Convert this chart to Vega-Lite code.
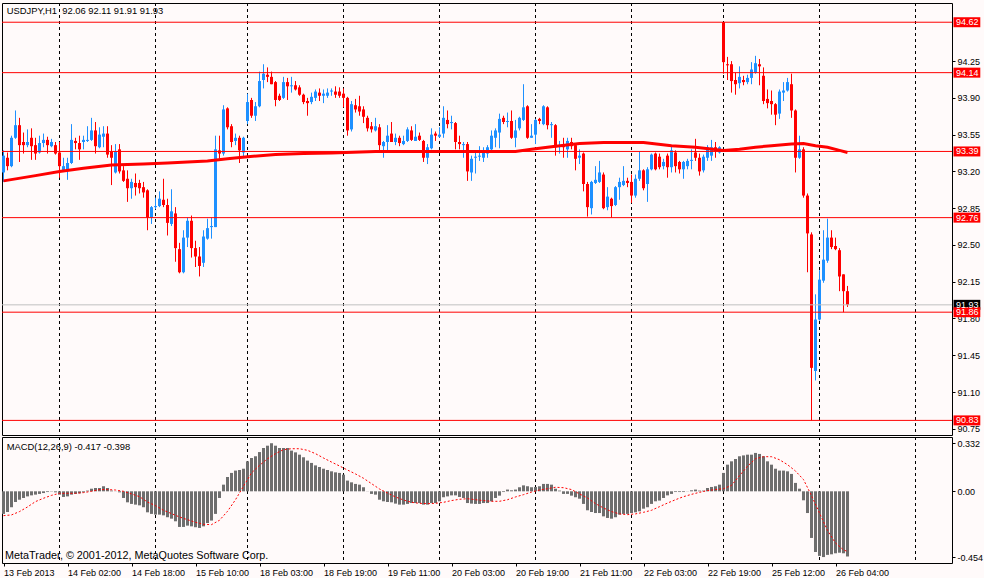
{
  "$schema": "https://vega.github.io/schema/vega-lite/v6.json",
  "autosize": {"type": "pad"},
  "padding": {"left": -3, "top": 2, "right": 0, "bottom": 0},
  "background": "#FFFAFA",
  "config": {
    "font": "Liberation Sans",
    "view": {"stroke": "#000000", "strokeWidth": 1, "fill": "#FFFAFA"},
    "scale": {"continuousPadding": 0},
    "axis": {"labelFont": "Liberation Sans", "labelFontSize": 9, "labelColor": "#000000", "tickColor": "#000000", "domain": false, "grid": false, "labelOverlap": false, "labelBound": false, "labelFlush": false}
  },
  "datasets": {
    "bars": [
      {"i":0,"o":93.19,"h":93.40,"l":93.10,"c":93.35},{"i":1,"o":93.33,"h":93.38,"l":93.21,"c":93.25},{"i":2,"o":93.25,"h":93.54,"l":93.24,"c":93.52},{"i":3,"o":93.52,"h":93.78,"l":93.51,"c":93.64},
      {"i":4,"o":93.64,"h":93.71,"l":93.29,"c":93.45},{"i":5,"o":93.48,"h":93.57,"l":93.37,"c":93.45},{"i":6,"o":93.45,"h":93.60,"l":93.43,"c":93.48},{"i":7,"o":93.52,"h":93.61,"l":93.31,"c":93.44},
      {"i":8,"o":93.45,"h":93.52,"l":93.31,"c":93.37},{"i":9,"o":93.38,"h":93.54,"l":93.37,"c":93.47},{"i":10,"o":93.47,"h":93.56,"l":93.43,"c":93.50},{"i":11,"o":93.50,"h":93.53,"l":93.37,"c":93.45},
      {"i":12,"o":93.44,"h":93.51,"l":93.43,"c":93.48},{"i":13,"o":93.45,"h":93.48,"l":93.36,"c":93.37},{"i":14,"o":93.38,"h":93.48,"l":93.14,"c":93.25},{"i":15,"o":93.21,"h":93.33,"l":93.20,"c":93.25},
      {"i":16,"o":93.22,"h":93.33,"l":93.12,"c":93.28},{"i":17,"o":93.28,"h":93.65,"l":93.27,"c":93.50},{"i":18,"o":93.49,"h":93.52,"l":93.41,"c":93.47},{"i":19,"o":93.47,"h":93.54,"l":93.31,"c":93.41},
      {"i":20,"o":93.48,"h":93.54,"l":93.41,"c":93.50},{"i":21,"o":93.49,"h":93.63,"l":93.48,"c":93.50},{"i":22,"o":93.50,"h":93.71,"l":93.49,"c":93.59},{"i":23,"o":93.59,"h":93.67,"l":93.37,"c":93.44},
      {"i":24,"o":93.43,"h":93.62,"l":93.42,"c":93.55},{"i":25,"o":93.53,"h":93.63,"l":93.43,"c":93.56},{"i":26,"o":93.56,"h":93.63,"l":93.33,"c":93.36},{"i":27,"o":93.39,"h":93.45,"l":93.07,"c":93.33},
      {"i":28,"o":93.19,"h":93.46,"l":93.18,"c":93.39},{"i":29,"o":93.41,"h":93.46,"l":93.18,"c":93.20},{"i":30,"o":93.21,"h":93.25,"l":93.10,"c":93.11},{"i":31,"o":93.13,"h":93.21,"l":92.91,"c":93.04},
      {"i":32,"o":93.04,"h":93.13,"l":92.94,"c":93.10},{"i":33,"o":93.09,"h":93.18,"l":92.97,"c":93.05},{"i":34,"o":93.09,"h":93.12,"l":92.99,"c":93.04},{"i":35,"o":93.05,"h":93.10,"l":92.95,"c":93.00},
      {"i":36,"o":93.02,"h":93.03,"l":92.64,"c":92.76},{"i":37,"o":92.76,"h":92.87,"l":92.70,"c":92.86},{"i":38,"o":92.86,"h":92.95,"l":92.84,"c":92.87},{"i":39,"o":92.87,"h":93.01,"l":92.86,"c":92.94},
      {"i":40,"o":92.93,"h":93.13,"l":92.86,"c":92.88},{"i":41,"o":92.88,"h":92.94,"l":92.59,"c":92.71},{"i":42,"o":92.70,"h":93.03,"l":92.68,"c":92.82},{"i":43,"o":92.80,"h":92.86,"l":92.34,"c":92.47},
      {"i":44,"o":92.46,"h":92.52,"l":92.23,"c":92.24},{"i":45,"o":92.24,"h":92.64,"l":92.23,"c":92.57},{"i":46,"o":92.57,"h":92.76,"l":92.48,"c":92.73},{"i":47,"o":92.73,"h":92.78,"l":92.38,"c":92.47},
      {"i":48,"o":92.47,"h":92.54,"l":92.29,"c":92.39},{"i":49,"o":92.39,"h":92.48,"l":92.20,"c":92.30},{"i":50,"o":92.33,"h":92.64,"l":92.29,"c":92.58},{"i":51,"o":92.56,"h":92.75,"l":92.55,"c":92.66},
      {"i":52,"o":92.67,"h":92.76,"l":92.56,"c":92.68},{"i":53,"o":92.67,"h":93.54,"l":92.67,"c":93.41},{"i":54,"o":93.40,"h":93.54,"l":93.32,"c":93.37},{"i":55,"o":93.37,"h":93.83,"l":93.35,"c":93.79},
      {"i":56,"o":93.80,"h":93.81,"l":93.60,"c":93.62},{"i":57,"o":93.63,"h":93.65,"l":93.43,"c":93.48},{"i":58,"o":93.49,"h":93.56,"l":93.45,"c":93.52},{"i":59,"o":93.52,"h":93.54,"l":93.28,"c":93.40},
      {"i":60,"o":93.38,"h":93.53,"l":93.33,"c":93.52},{"i":61,"o":93.68,"h":93.94,"l":93.65,"c":93.86},{"i":62,"o":93.88,"h":93.90,"l":93.71,"c":93.73},{"i":63,"o":93.73,"h":93.86,"l":93.68,"c":93.82},
      {"i":64,"o":93.82,"h":94.15,"l":93.81,"c":94.06},{"i":65,"o":94.07,"h":94.22,"l":93.99,"c":94.13},{"i":66,"o":94.12,"h":94.19,"l":94.05,"c":94.10},{"i":67,"o":94.10,"h":94.15,"l":94.03,"c":94.03},
      {"i":68,"o":94.05,"h":94.06,"l":93.82,"c":93.88},{"i":69,"o":93.92,"h":93.94,"l":93.87,"c":93.88},{"i":70,"o":93.90,"h":94.10,"l":93.89,"c":94.05},{"i":71,"o":94.05,"h":94.09,"l":93.88,"c":94.01},
      {"i":72,"o":94.01,"h":94.10,"l":93.95,"c":94.02},{"i":73,"o":94.02,"h":94.06,"l":93.97,"c":93.98},{"i":74,"o":94.00,"h":94.02,"l":93.92,"c":93.93},{"i":75,"o":93.93,"h":93.94,"l":93.84,"c":93.86},
      {"i":76,"o":93.87,"h":93.90,"l":93.73,"c":93.85},{"i":77,"o":93.86,"h":93.95,"l":93.84,"c":93.91},{"i":78,"o":93.90,"h":93.98,"l":93.87,"c":93.96},{"i":79,"o":93.95,"h":93.99,"l":93.87,"c":93.92},
      {"i":80,"o":93.92,"h":93.98,"l":93.85,"c":93.94},{"i":81,"o":93.92,"h":93.99,"l":93.90,"c":93.95},{"i":82,"o":93.96,"h":93.99,"l":93.92,"c":93.97},{"i":83,"o":93.96,"h":94.01,"l":93.90,"c":93.93},
      {"i":84,"o":93.96,"h":94.00,"l":93.90,"c":93.92},{"i":85,"o":93.94,"h":93.99,"l":93.81,"c":93.90},{"i":86,"o":93.90,"h":93.91,"l":93.54,"c":93.59},{"i":87,"o":93.60,"h":93.87,"l":93.58,"c":93.84},
      {"i":88,"o":93.83,"h":93.89,"l":93.76,"c":93.79},{"i":89,"o":93.82,"h":93.92,"l":93.73,"c":93.77},{"i":90,"o":93.79,"h":93.82,"l":93.66,"c":93.72},{"i":91,"o":93.71,"h":93.73,"l":93.58,"c":93.61},
      {"i":92,"o":93.63,"h":93.67,"l":93.57,"c":93.60},{"i":93,"o":93.59,"h":93.71,"l":93.58,"c":93.63},{"i":94,"o":93.62,"h":93.65,"l":93.38,"c":93.45},{"i":95,"o":93.44,"h":93.49,"l":93.33,"c":93.48},
      {"i":96,"o":93.48,"h":93.64,"l":93.38,"c":93.54},{"i":97,"o":93.56,"h":93.67,"l":93.48,"c":93.48},{"i":98,"o":93.48,"h":93.56,"l":93.45,"c":93.52},{"i":99,"o":93.52,"h":93.54,"l":93.44,"c":93.47},
      {"i":100,"o":93.46,"h":93.54,"l":93.45,"c":93.49},{"i":101,"o":93.49,"h":93.62,"l":93.48,"c":93.60},{"i":102,"o":93.59,"h":93.63,"l":93.49,"c":93.50},{"i":103,"o":93.49,"h":93.65,"l":93.49,"c":93.53},
      {"i":104,"o":93.54,"h":93.57,"l":93.49,"c":93.50},{"i":105,"o":93.49,"h":93.50,"l":93.29,"c":93.33},{"i":106,"o":93.33,"h":93.46,"l":93.27,"c":93.43},{"i":107,"o":93.42,"h":93.61,"l":93.41,"c":93.55},
      {"i":108,"o":93.56,"h":93.58,"l":93.49,"c":93.54},{"i":109,"o":93.53,"h":93.62,"l":93.52,"c":93.55},{"i":110,"o":93.56,"h":93.82,"l":93.52,"c":93.71},{"i":111,"o":93.69,"h":93.78,"l":93.61,"c":93.65},
      {"i":112,"o":93.66,"h":93.73,"l":93.60,"c":93.67},{"i":113,"o":93.66,"h":93.67,"l":93.41,"c":93.48},{"i":114,"o":93.48,"h":93.54,"l":93.41,"c":93.46},{"i":115,"o":93.45,"h":93.48,"l":93.33,"c":93.46},
      {"i":116,"o":93.46,"h":93.48,"l":93.11,"c":93.20},{"i":117,"o":93.19,"h":93.35,"l":93.11,"c":93.32},{"i":118,"o":93.33,"h":93.40,"l":93.18,"c":93.34},{"i":119,"o":93.34,"h":93.44,"l":93.30,"c":93.35},
      {"i":120,"o":93.33,"h":93.43,"l":93.29,"c":93.38},{"i":121,"o":93.37,"h":93.45,"l":93.33,"c":93.43},{"i":122,"o":93.41,"h":93.59,"l":93.40,"c":93.54},{"i":123,"o":93.52,"h":93.61,"l":93.43,"c":93.59},
      {"i":124,"o":93.57,"h":93.75,"l":93.42,"c":93.70},{"i":125,"o":93.71,"h":93.73,"l":93.65,"c":93.67},{"i":126,"o":93.67,"h":93.76,"l":93.62,"c":93.68},{"i":127,"o":93.68,"h":93.78,"l":93.51,"c":93.52},
      {"i":128,"o":93.52,"h":93.69,"l":93.43,"c":93.59},{"i":129,"o":93.61,"h":93.72,"l":93.59,"c":93.71},{"i":130,"o":93.69,"h":94.03,"l":93.68,"c":93.81},{"i":131,"o":93.82,"h":93.83,"l":93.51,"c":93.52},
      {"i":132,"o":93.52,"h":93.65,"l":93.52,"c":93.54},{"i":133,"o":93.55,"h":93.70,"l":93.46,"c":93.69},{"i":134,"o":93.70,"h":93.71,"l":93.65,"c":93.68},{"i":135,"o":93.65,"h":93.83,"l":93.64,"c":93.82},
      {"i":136,"o":93.81,"h":93.82,"l":93.60,"c":93.64},{"i":137,"o":93.64,"h":93.67,"l":93.52,"c":93.65},{"i":138,"o":93.64,"h":93.65,"l":93.35,"c":93.43},{"i":139,"o":93.44,"h":93.49,"l":93.37,"c":93.45},
      {"i":140,"o":93.46,"h":93.52,"l":93.33,"c":93.43},{"i":141,"o":93.41,"h":93.52,"l":93.33,"c":93.49},{"i":142,"o":93.48,"h":93.52,"l":93.41,"c":93.44},{"i":143,"o":93.45,"h":93.47,"l":93.21,"c":93.32},
      {"i":144,"o":93.33,"h":93.41,"l":93.27,"c":93.35},{"i":145,"o":93.37,"h":93.38,"l":93.01,"c":93.08},{"i":146,"o":93.08,"h":93.10,"l":92.77,"c":92.86},{"i":147,"o":92.85,"h":93.11,"l":92.79,"c":93.10},
      {"i":148,"o":93.09,"h":93.25,"l":93.08,"c":93.12},{"i":149,"o":93.10,"h":93.30,"l":93.09,"c":93.19},{"i":150,"o":93.17,"h":93.19,"l":92.84,"c":92.85},{"i":151,"o":92.86,"h":93.05,"l":92.83,"c":92.96},
      {"i":152,"o":92.94,"h":92.95,"l":92.76,"c":92.87},{"i":153,"o":92.88,"h":93.06,"l":92.87,"c":93.05},{"i":154,"o":93.05,"h":93.14,"l":92.93,"c":93.10},{"i":155,"o":93.07,"h":93.25,"l":93.06,"c":93.11},
      {"i":156,"o":93.11,"h":93.14,"l":93.05,"c":93.09},{"i":157,"o":93.10,"h":93.17,"l":92.90,"c":92.97},{"i":158,"o":92.97,"h":93.17,"l":92.95,"c":93.13},{"i":159,"o":93.13,"h":93.39,"l":93.11,"c":93.21},
      {"i":160,"o":93.21,"h":93.22,"l":93.02,"c":93.04},{"i":161,"o":93.08,"h":93.24,"l":92.91,"c":93.22},{"i":162,"o":93.22,"h":93.37,"l":93.21,"c":93.36},{"i":163,"o":93.37,"h":93.38,"l":93.21,"c":93.22},
      {"i":164,"o":93.34,"h":93.37,"l":93.22,"c":93.24},{"i":165,"o":93.25,"h":93.32,"l":93.22,"c":93.29},{"i":166,"o":93.35,"h":93.37,"l":93.14,"c":93.24},{"i":167,"o":93.24,"h":93.45,"l":93.19,"c":93.40},
      {"i":168,"o":93.38,"h":93.40,"l":93.19,"c":93.25},{"i":169,"o":93.29,"h":93.30,"l":93.18,"c":93.22},{"i":170,"o":93.22,"h":93.30,"l":93.13,"c":93.29},{"i":171,"o":93.25,"h":93.32,"l":93.22,"c":93.30},
      {"i":172,"o":93.30,"h":93.41,"l":93.22,"c":93.31},{"i":173,"o":93.38,"h":93.51,"l":93.30,"c":93.33},{"i":174,"o":93.33,"h":93.37,"l":93.16,"c":93.20},{"i":175,"o":93.21,"h":93.36,"l":93.19,"c":93.34},
      {"i":176,"o":93.33,"h":93.45,"l":93.30,"c":93.43},{"i":177,"o":93.35,"h":93.50,"l":93.30,"c":93.43},{"i":178,"o":93.43,"h":93.48,"l":93.33,"c":93.41},{"i":179,"o":93.38,"h":93.44,"l":93.37,"c":93.43},
      {"i":180,"o":94.62,"h":94.62,"l":94.13,"c":94.24},{"i":181,"o":94.22,"h":94.29,"l":94.07,"c":94.21},{"i":182,"o":94.22,"h":94.25,"l":93.95,"c":94.06},{"i":183,"o":94.07,"h":94.14,"l":93.93,"c":94.03},
      {"i":184,"o":94.04,"h":94.20,"l":93.99,"c":94.10},{"i":185,"o":94.07,"h":94.11,"l":94.02,"c":94.05},{"i":186,"o":94.05,"h":94.12,"l":94.03,"c":94.09},{"i":187,"o":94.09,"h":94.24,"l":94.03,"c":94.17},
      {"i":188,"o":94.14,"h":94.30,"l":94.13,"c":94.23},{"i":189,"o":94.22,"h":94.27,"l":94.02,"c":94.20},{"i":190,"o":94.11,"h":94.19,"l":93.84,"c":93.87},{"i":191,"o":93.89,"h":93.98,"l":93.80,"c":93.85},
      {"i":192,"o":93.87,"h":93.97,"l":93.74,"c":93.84},{"i":193,"o":93.84,"h":93.85,"l":93.64,"c":93.74},{"i":194,"o":93.75,"h":93.98,"l":93.70,"c":93.96},{"i":195,"o":93.95,"h":94.05,"l":93.87,"c":93.97},
      {"i":196,"o":93.97,"h":94.09,"l":93.96,"c":94.05},{"i":197,"o":94.03,"h":94.13,"l":93.71,"c":93.78},{"i":198,"o":93.78,"h":93.79,"l":93.19,"c":93.33},{"i":199,"o":93.33,"h":93.54,"l":93.32,"c":93.41},
      {"i":200,"o":93.41,"h":93.43,"l":92.95,"c":92.97},{"i":201,"o":92.97,"h":92.99,"l":92.24,"c":92.61},{"i":202,"o":92.60,"h":92.62,"l":90.83,"c":91.33},{"i":203,"o":91.30,"h":92.03,"l":91.21,"c":91.79},
      {"i":204,"o":91.79,"h":92.26,"l":91.78,"c":92.17},{"i":205,"o":92.16,"h":92.64,"l":92.14,"c":92.36},{"i":206,"o":92.35,"h":92.75,"l":92.33,"c":92.57},{"i":207,"o":92.57,"h":92.64,"l":92.46,"c":92.48},
      {"i":208,"o":92.49,"h":92.57,"l":92.45,"c":92.46},{"i":209,"o":92.45,"h":92.47,"l":92.06,"c":92.20},{"i":210,"o":92.22,"h":92.22,"l":91.86,"c":92.06},{"i":211,"o":92.06,"h":92.11,"l":91.91,"c":91.93}
    ],
    "ma": [
      {"i":0,"v":93.11},{"i":8,"v":93.16},{"i":14,"v":93.20},{"i":20,"v":93.23},{"i":27,"v":93.26},{"i":35,"v":93.27},{"i":41,"v":93.28},
      {"i":51,"v":93.30},{"i":56,"v":93.32},{"i":61,"v":93.34},{"i":68,"v":93.36},{"i":75,"v":93.37},{"i":82,"v":93.375},{"i":93,"v":93.39},
      {"i":105,"v":93.39},{"i":120,"v":93.39},{"i":128,"v":93.39},{"i":132,"v":93.41},{"i":137,"v":93.435},{"i":144,"v":93.465},{"i":150,"v":93.475},
      {"i":160,"v":93.475},{"i":167,"v":93.445},{"i":173,"v":93.43},{"i":180,"v":93.40},{"i":184,"v":93.41},{"i":188,"v":93.43},{"i":192,"v":93.445},
      {"i":197,"v":93.46},{"i":200,"v":93.465},{"i":203,"v":93.445},{"i":206,"v":93.43},{"i":209,"v":93.40},{"i":211,"v":93.38}
    ],
    "macd": [
      {"i":0,"m":-0.156},{"i":1,"m":-0.143},{"i":2,"m":-0.110},{"i":3,"m":-0.074},{"i":4,"m":-0.058},{"i":5,"m":-0.046},{"i":6,"m":-0.035},{"i":7,"m":-0.028},
      {"i":8,"m":-0.023},{"i":9,"m":-0.018},{"i":10,"m":-0.012},{"i":11,"m":-0.005},{"i":12,"m":-0.002},{"i":13,"m":-0.007},{"i":14,"m":-0.023},{"i":15,"m":-0.039},
      {"i":16,"m":-0.035},{"i":17,"m":-0.023},{"i":18,"m":-0.018},{"i":19,"m":-0.014},{"i":20,"m":-0.007},{"i":21,"m":0.005},{"i":22,"m":0.018},{"i":23,"m":0.023},
      {"i":24,"m":0.023},{"i":25,"m":0.035},{"i":26,"m":0.023},{"i":27,"m":0.005},{"i":28,"m":-0.001},{"i":29,"m":-0.007},{"i":30,"m":-0.046},{"i":31,"m":-0.076},
      {"i":32,"m":-0.087},{"i":33,"m":-0.092},{"i":34,"m":-0.097},{"i":35,"m":-0.110},{"i":36,"m":-0.145},{"i":37,"m":-0.156},{"i":38,"m":-0.161},{"i":39,"m":-0.161},
      {"i":40,"m":-0.166},{"i":41,"m":-0.179},{"i":42,"m":-0.189},{"i":43,"m":-0.207},{"i":44,"m":-0.246},{"i":45,"m":-0.246},{"i":46,"m":-0.237},{"i":47,"m":-0.242},
      {"i":48,"m":-0.248},{"i":49,"m":-0.253},{"i":50,"m":-0.242},{"i":51,"m":-0.219},{"i":52,"m":-0.202},{"i":53,"m":-0.156},{"i":54,"m":-0.046},{"i":55,"m":0.046},
      {"i":56,"m":0.099},{"i":57,"m":0.127},{"i":58,"m":0.143},{"i":59,"m":0.147},{"i":60,"m":0.156},{"i":61,"m":0.207},{"i":62,"m":0.230},{"i":63,"m":0.242},
      {"i":64,"m":0.271},{"i":65,"m":0.299},{"i":66,"m":0.315},{"i":67,"m":0.332},{"i":68,"m":0.315},{"i":69,"m":0.299},{"i":70,"m":0.299},{"i":71,"m":0.299},
      {"i":72,"m":0.281},{"i":73,"m":0.269},{"i":74,"m":0.253},{"i":75,"m":0.235},{"i":76,"m":0.212},{"i":77,"m":0.196},{"i":78,"m":0.179},{"i":79,"m":0.168},
      {"i":80,"m":0.156},{"i":81,"m":0.147},{"i":82,"m":0.138},{"i":83,"m":0.131},{"i":84,"m":0.127},{"i":85,"m":0.115},{"i":86,"m":0.074},{"i":87,"m":0.062},
      {"i":88,"m":0.051},{"i":89,"m":0.046},{"i":90,"m":0.028},{"i":91,"m":-0.001},{"i":92,"m":-0.018},{"i":93,"m":-0.023},{"i":94,"m":-0.058},{"i":95,"m":-0.069},
      {"i":96,"m":-0.074},{"i":97,"m":-0.076},{"i":98,"m":-0.085},{"i":99,"m":-0.092},{"i":100,"m":-0.092},{"i":101,"m":-0.087},{"i":102,"m":-0.081},{"i":103,"m":-0.081},
      {"i":104,"m":-0.081},{"i":105,"m":-0.092},{"i":106,"m":-0.092},{"i":107,"m":-0.081},{"i":108,"m":-0.081},{"i":109,"m":-0.069},{"i":110,"m":-0.041},{"i":111,"m":-0.035},
      {"i":112,"m":-0.028},{"i":113,"m":-0.028},{"i":114,"m":-0.039},{"i":115,"m":-0.046},{"i":116,"m":-0.081},{"i":117,"m":-0.085},{"i":118,"m":-0.087},{"i":119,"m":-0.087},
      {"i":120,"m":-0.081},{"i":121,"m":-0.081},{"i":122,"m":-0.069},{"i":123,"m":-0.046},{"i":124,"m":-0.030},{"i":125,"m":-0.005},{"i":126,"m":0.012},{"i":127,"m":0.007},
      {"i":128,"m":0.012},{"i":129,"m":0.028},{"i":130,"m":0.041},{"i":131,"m":0.035},{"i":132,"m":0.028},{"i":133,"m":0.030},{"i":134,"m":0.035},{"i":135,"m":0.051},
      {"i":136,"m":0.051},{"i":137,"m":0.046},{"i":138,"m":0.018},{"i":139,"m":0.005},{"i":140,"m":-0.018},{"i":141,"m":-0.018},{"i":142,"m":-0.030},{"i":143,"m":-0.041},
      {"i":144,"m":-0.051},{"i":145,"m":-0.087},{"i":146,"m":-0.131},{"i":147,"m":-0.143},{"i":148,"m":-0.150},{"i":149,"m":-0.150},{"i":150,"m":-0.173},{"i":151,"m":-0.184},
      {"i":152,"m":-0.189},{"i":153,"m":-0.179},{"i":154,"m":-0.161},{"i":155,"m":-0.156},{"i":156,"m":-0.156},{"i":157,"m":-0.150},{"i":158,"m":-0.145},{"i":159,"m":-0.138},
      {"i":160,"m":-0.120},{"i":161,"m":-0.110},{"i":162,"m":-0.087},{"i":163,"m":-0.069},{"i":164,"m":-0.064},{"i":165,"m":-0.046},{"i":166,"m":-0.028},{"i":167,"m":-0.018},
      {"i":168,"m":-0.005},{"i":169,"m":-0.005},{"i":170,"m":-0.005},{"i":171,"m":-0.001},{"i":172,"m":0.007},{"i":173,"m":0.012},{"i":174,"m":0.005},{"i":175,"m":0.005},
      {"i":176,"m":0.023},{"i":177,"m":0.030},{"i":178,"m":0.035},{"i":179,"m":0.046},{"i":180,"m":0.127},{"i":181,"m":0.184},{"i":182,"m":0.207},{"i":183,"m":0.223},
      {"i":184,"m":0.242},{"i":185,"m":0.248},{"i":186,"m":0.253},{"i":187,"m":0.253},{"i":188,"m":0.265},{"i":189,"m":0.258},{"i":190,"m":0.242},{"i":191,"m":0.207},
      {"i":192,"m":0.184},{"i":193,"m":0.156},{"i":194,"m":0.143},{"i":195,"m":0.143},{"i":196,"m":0.138},{"i":197,"m":0.120},{"i":198,"m":0.058},{"i":199,"m":0.018},
      {"i":200,"m":-0.062},{"i":201,"m":-0.150},{"i":202,"m":-0.322},{"i":203,"m":-0.419},{"i":204,"m":-0.446},{"i":205,"m":-0.454},{"i":206,"m":-0.439},{"i":207,"m":-0.435},
      {"i":208,"m":-0.428},{"i":209,"m":-0.424},{"i":210,"m":-0.428},{"i":211,"m":-0.450}
    ],
    "signal": [
      {"i":0,"s":-0.168},{"i":2,"s":-0.163},{"i":4,"s":-0.140},{"i":6,"s":-0.108},{"i":8,"s":-0.071},{"i":10,"s":-0.048},{"i":12,"s":-0.028},{"i":14,"s":-0.014},
      {"i":16,"s":-0.014},{"i":18,"s":-0.014},{"i":20,"s":-0.009},{"i":22,"s":0.000},{"i":24,"s":0.012},{"i":26,"s":0.012},{"i":28,"s":0.009},{"i":30,"s":0.000},
      {"i":32,"s":-0.018},{"i":34,"s":-0.037},{"i":36,"s":-0.074},{"i":38,"s":-0.099},{"i":40,"s":-0.131},{"i":42,"s":-0.154},{"i":44,"s":-0.177},{"i":46,"s":-0.196},
      {"i":48,"s":-0.214},{"i":50,"s":-0.228},{"i":52,"s":-0.230},{"i":54,"s":-0.200},{"i":56,"s":-0.138},{"i":58,"s":-0.058},{"i":60,"s":0.035},{"i":62,"s":0.127},
      {"i":64,"s":0.179},{"i":66,"s":0.225},{"i":68,"s":0.260},{"i":70,"s":0.288},{"i":72,"s":0.294},{"i":74,"s":0.294},{"i":76,"s":0.283},{"i":78,"s":0.260},
      {"i":80,"s":0.230},{"i":82,"s":0.202},{"i":84,"s":0.175},{"i":86,"s":0.147},{"i":88,"s":0.120},{"i":90,"s":0.090},{"i":92,"s":0.053},{"i":94,"s":0.016},
      {"i":96,"s":-0.012},{"i":98,"s":-0.039},{"i":100,"s":-0.060},{"i":102,"s":-0.076},{"i":104,"s":-0.083},{"i":106,"s":-0.085},{"i":108,"s":-0.083},{"i":110,"s":-0.076},
      {"i":112,"s":-0.064},{"i":114,"s":-0.055},{"i":116,"s":-0.051},{"i":118,"s":-0.058},{"i":120,"s":-0.064},{"i":122,"s":-0.069},{"i":124,"s":-0.069},{"i":126,"s":-0.058},
      {"i":128,"s":-0.039},{"i":130,"s":-0.023},{"i":132,"s":-0.005},{"i":134,"s":0.009},{"i":136,"s":0.018},{"i":138,"s":0.028},{"i":140,"s":0.025},{"i":142,"s":0.012},
      {"i":144,"s":-0.018},{"i":146,"s":-0.046},{"i":148,"s":-0.085},{"i":150,"s":-0.115},{"i":152,"s":-0.140},{"i":154,"s":-0.156},{"i":156,"s":-0.161},{"i":158,"s":-0.156},
      {"i":160,"s":-0.145},{"i":162,"s":-0.131},{"i":164,"s":-0.106},{"i":166,"s":-0.081},{"i":168,"s":-0.058},{"i":170,"s":-0.037},{"i":172,"s":-0.021},{"i":174,"s":-0.007},
      {"i":176,"s":0.005},{"i":178,"s":0.012},{"i":180,"s":0.018},{"i":182,"s":0.041},{"i":184,"s":0.108},{"i":186,"s":0.173},{"i":188,"s":0.225},{"i":190,"s":0.239},
      {"i":192,"s":0.239},{"i":194,"s":0.218},{"i":196,"s":0.184},{"i":198,"s":0.140},{"i":200,"s":0.081},{"i":202,"s":-0.030},{"i":204,"s":-0.150},{"i":206,"s":-0.270},
      {"i":208,"s":-0.357},{"i":210,"s":-0.405},{"i":211,"s":-0.415}
    ],
    "days": [{"i":14},{"i":38},{"i":61},{"i":85},{"i":109},{"i":133},{"i":157},{"i":180},{"i":204},{"i":228}],
    "levels": [
      {"v":91.93,"k":"bid"},{"v":94.62,"k":"line"},{"v":94.14,"k":"line"},{"v":93.39,"k":"line"},
      {"v":92.76,"k":"line"},{"v":91.86,"k":"line"},{"v":90.83,"k":"line"}
    ]
  },
  "spacing": 2,
  "bounds": "flush",
  "vconcat": [
    {
      "width": 950,
      "height": 432,
      "layer": [
        {
          "data": {"name": "days"},
          "mark": {"type": "rule", "color": "#000000", "strokeWidth": 1, "strokeDash": [3, 3]},
          "encoding": {
            "x": {"field": "i", "type": "quantitative", "scale": {"domain": [-0.375, 237.125], "nice": false, "zero": false, "padding": 0}, "axis": null}
          }
        },
        {
          "data": {"name": "bars"},
          "mark": {"type": "rule", "strokeWidth": 1},
          "encoding": {
            "x": {"field": "i", "type": "quantitative", "axis": null},
            "y": {"field": "l", "type": "quantitative", "scale": {"domain": [90.691, 94.803], "nice": false, "zero": false, "padding": 0},
              "axis": {"orient": "right", "title": null, "values": [94.25, 93.9, 93.55, 93.2, 92.85, 92.5, 92.15, 91.8, 91.45, 91.1, 90.75], "format": ".2f", "tickSize": 3, "labelPadding": 2}},
            "y2": {"field": "h"},
            "color": {"condition": {"test": "datum.c >= datum.o", "value": "#1E90FF"}, "value": "#FF0000"}
          }
        },
        {
          "data": {"name": "bars"},
          "mark": {"type": "bar", "size": 3},
          "encoding": {
            "x": {"field": "i", "type": "quantitative", "axis": null},
            "y": {"field": "o", "type": "quantitative",
              "axis": {"orient": "right", "title": null, "values": [94.25, 93.9, 93.55, 93.2, 92.85, 92.5, 92.15, 91.8, 91.45, 91.1, 90.75], "format": ".2f", "tickSize": 3, "labelPadding": 2}},
            "y2": {"field": "c"},
            "color": {"condition": {"test": "datum.c >= datum.o", "value": "#1E90FF"}, "value": "#FF0000"}
          }
        },
        {
          "data": {"name": "ma"},
          "mark": {"type": "line", "color": "#FF0000", "strokeWidth": 3},
          "encoding": {
            "x": {"field": "i", "type": "quantitative", "axis": null},
            "y": {"field": "v", "type": "quantitative",
              "axis": {"orient": "right", "title": null, "values": [94.25, 93.9, 93.55, 93.2, 92.85, 92.5, 92.15, 91.8, 91.45, 91.1, 90.75], "format": ".2f", "tickSize": 3, "labelPadding": 2}}
          }
        },
        {
          "data": {"name": "levels"},
          "mark": {"type": "rule", "strokeWidth": 1},
          "encoding": {
            "y": {"field": "v", "type": "quantitative",
              "axis": {"orient": "right", "title": null, "values": [94.25, 93.9, 93.55, 93.2, 92.85, 92.5, 92.15, 91.8, 91.45, 91.1, 90.75], "format": ".2f", "tickSize": 3, "labelPadding": 2}},
            "color": {"condition": {"test": "datum.k == 'bid'", "value": "#C0C0C0"}, "value": "#FF0000"}
          }
        },
        {
          "data": {"name": "levels"},
          "mark": {"type": "bar", "size": 10},
          "encoding": {
            "x": {"datum": 237.5, "type": "quantitative", "axis": null},
            "x2": {"datum": 244.2},
            "y": {"field": "v", "type": "quantitative",
              "axis": {"orient": "right", "title": null, "values": [94.25, 93.9, 93.55, 93.2, 92.85, 92.5, 92.15, 91.8, 91.45, 91.1, 90.75], "format": ".2f", "tickSize": 3, "labelPadding": 2}},
            "color": {"condition": {"test": "datum.k == 'bid'", "value": "#000000"}, "value": "#FF0000"}
          }
        },
        {
          "data": {"name": "levels"},
          "mark": {"type": "text", "align": "left", "baseline": "middle", "color": "#FFFFFF", "fontSize": 9, "font": "Liberation Sans"},
          "encoding": {
            "x": {"datum": 238.1, "type": "quantitative", "axis": null},
            "y": {"field": "v", "type": "quantitative",
              "axis": {"orient": "right", "title": null, "values": [94.25, 93.9, 93.55, 93.2, 92.85, 92.5, 92.15, 91.8, 91.45, 91.1, 90.75], "format": ".2f", "tickSize": 3, "labelPadding": 2}},
            "text": {"field": "v", "type": "quantitative", "format": ".2f"}
          }
        },
        {
          "data": {"values": [{"t": "USDJPY,H1\u00a0 92.06 92.11 91.91 91.93"}]},
          "mark": {"type": "text", "align": "left", "baseline": "middle", "color": "#000000", "fontSize": 9.4, "font": "Liberation Sans"},
          "encoding": {
            "x": {"datum": 0.8, "type": "quantitative", "axis": null},
            "y": {"datum": 94.725, "type": "quantitative",
              "axis": {"orient": "right", "title": null, "values": [94.25, 93.9, 93.55, 93.2, 92.85, 92.5, 92.15, 91.8, 91.45, 91.1, 90.75], "format": ".2f", "tickSize": 3, "labelPadding": 2}},
            "text": {"field": "t"}
          }
        }
      ]
    },
    {
      "width": 950,
      "height": 126,
      "layer": [
        {
          "data": {"name": "days"},
          "mark": {"type": "rule", "color": "#000000", "strokeWidth": 1, "strokeDash": [3, 3]},
          "encoding": {
            "x": {"field": "i", "type": "quantitative", "scale": {"domain": [-0.375, 237.125], "nice": false, "zero": false, "padding": 0},
              "axis": {"orient": "bottom", "title": null, "values": [0, 16, 32, 48, 64, 80, 96, 112, 128, 144, 160, 176, 192, 208],
                "labelExpr": "['13 Feb 2013','14 Feb 02:00','14 Feb 18:00','15 Feb 10:00','18 Feb 03:00','18 Feb 19:00','19 Feb 11:00','20 Feb 03:00','20 Feb 19:00','21 Feb 11:00','22 Feb 03:00','22 Feb 19:00','25 Feb 12:00','26 Feb 04:00'][round(datum.value / 16)]",
                "labelAlign": "left", "labelBaseline": "top", "tickSize": 3, "labelPadding": 2}}
          }
        },
        {
          "data": {"name": "macd"},
          "mark": {"type": "bar", "size": 3, "color": "#6E6E6E"},
          "encoding": {
            "x": {"field": "i", "type": "quantitative",
              "axis": {"orient": "bottom", "title": null, "values": [0, 16, 32, 48, 64, 80, 96, 112, 128, 144, 160, 176, 192, 208],
                "labelExpr": "['13 Feb 2013','14 Feb 02:00','14 Feb 18:00','15 Feb 10:00','18 Feb 03:00','18 Feb 19:00','19 Feb 11:00','20 Feb 03:00','20 Feb 19:00','21 Feb 11:00','22 Feb 03:00','22 Feb 19:00','25 Feb 12:00','26 Feb 04:00'][round(datum.value / 16)]",
                "labelAlign": "left", "labelBaseline": "top", "tickSize": 3, "labelPadding": 2}},
            "y": {"field": "m", "type": "quantitative", "scale": {"domain": [-0.495, 0.375], "nice": false, "zero": false, "padding": 0},
              "axis": {"orient": "right", "title": null, "values": [0.332, 0, -0.454], "labelExpr": "datum.value > 0.1 ? '0.332' : (datum.value < -0.1 ? '-0.454' : '0.00')", "tickSize": 3, "labelPadding": 2}},
            "y2": {"datum": 0}
          }
        },
        {
          "data": {"name": "signal"},
          "mark": {"type": "line", "color": "#FF0000", "strokeWidth": 1, "strokeDash": [2, 2]},
          "encoding": {
            "x": {"field": "i", "type": "quantitative",
              "axis": {"orient": "bottom", "title": null, "values": [0, 16, 32, 48, 64, 80, 96, 112, 128, 144, 160, 176, 192, 208],
                "labelExpr": "['13 Feb 2013','14 Feb 02:00','14 Feb 18:00','15 Feb 10:00','18 Feb 03:00','18 Feb 19:00','19 Feb 11:00','20 Feb 03:00','20 Feb 19:00','21 Feb 11:00','22 Feb 03:00','22 Feb 19:00','25 Feb 12:00','26 Feb 04:00'][round(datum.value / 16)]",
                "labelAlign": "left", "labelBaseline": "top", "tickSize": 3, "labelPadding": 2}},
            "y": {"field": "s", "type": "quantitative",
              "axis": {"orient": "right", "title": null, "values": [0.332, 0, -0.454], "labelExpr": "datum.value > 0.1 ? '0.332' : (datum.value < -0.1 ? '-0.454' : '0.00')", "tickSize": 3, "labelPadding": 2}}
          }
        },
        {
          "data": {"values": [{"t": "MACD(12,26,9) -0.417 -0.398", "u": "MetaTrader, © 2001-2012, MetaQuotes Software Corp."}]},
          "layer": [
            {
              "mark": {"type": "text", "align": "left", "baseline": "middle", "color": "#000000", "fontSize": 9.4, "font": "Liberation Sans"},
              "encoding": {
                "x": {"datum": 0.8, "type": "quantitative",
                  "axis": {"orient": "bottom", "title": null, "values": [0, 16, 32, 48, 64, 80, 96, 112, 128, 144, 160, 176, 192, 208],
                    "labelExpr": "['13 Feb 2013','14 Feb 02:00','14 Feb 18:00','15 Feb 10:00','18 Feb 03:00','18 Feb 19:00','19 Feb 11:00','20 Feb 03:00','20 Feb 19:00','21 Feb 11:00','22 Feb 03:00','22 Feb 19:00','25 Feb 12:00','26 Feb 04:00'][round(datum.value / 16)]",
                    "labelAlign": "left", "labelBaseline": "top", "tickSize": 3, "labelPadding": 2}},
                "y": {"datum": 0.306, "type": "quantitative",
                  "axis": {"orient": "right", "title": null, "values": [0.332, 0, -0.454], "labelExpr": "datum.value > 0.1 ? '0.332' : (datum.value < -0.1 ? '-0.454' : '0.00')", "tickSize": 3, "labelPadding": 2}},
                "text": {"field": "t"}
              }
            },
            {
              "mark": {"type": "text", "align": "left", "baseline": "middle", "color": "#000000", "fontSize": 10.8, "font": "Liberation Sans"},
              "encoding": {
                "x": {"datum": 0.4, "type": "quantitative",
                  "axis": {"orient": "bottom", "title": null, "values": [0, 16, 32, 48, 64, 80, 96, 112, 128, 144, 160, 176, 192, 208],
                    "labelExpr": "['13 Feb 2013','14 Feb 02:00','14 Feb 18:00','15 Feb 10:00','18 Feb 03:00','18 Feb 19:00','19 Feb 11:00','20 Feb 03:00','20 Feb 19:00','21 Feb 11:00','22 Feb 03:00','22 Feb 19:00','25 Feb 12:00','26 Feb 04:00'][round(datum.value / 16)]",
                    "labelAlign": "left", "labelBaseline": "top", "tickSize": 3, "labelPadding": 2}},
                "y": {"datum": -0.448, "type": "quantitative",
                  "axis": {"orient": "right", "title": null, "values": [0.332, 0, -0.454], "labelExpr": "datum.value > 0.1 ? '0.332' : (datum.value < -0.1 ? '-0.454' : '0.00')", "tickSize": 3, "labelPadding": 2}},
                "text": {"field": "u"}
              }
            }
          ]
        }
      ]
    }
  ]
}
